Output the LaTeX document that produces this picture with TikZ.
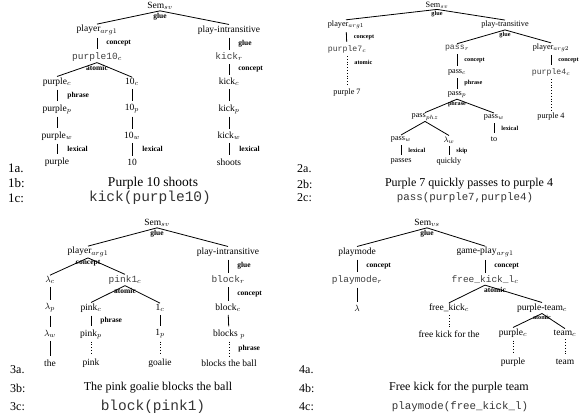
\documentclass[tikz,border=0pt]{standalone}
\usepackage{fontspec}
\setmainfont{Liberation Serif}
\setmonofont{Liberation Mono}
\usetikzlibrary{positioning}
\newcommand{\mono}[1]{{\color{black!75}\ttfamily #1}}
\tikzset{
  tn/.style={inner sep=1pt, font=\fontsize{9.5}{11}\selectfont},
  ts/.style={inner sep=1pt, font=\fontsize{8.2}{10}\selectfont},
  lbl/.style={inner sep=0pt, font=\fontsize{7.5}{8}\selectfont\bfseries},
  lbs/.style={inner sep=0pt, font=\fontsize{6.2}{7}\selectfont\bfseries},
  br/.style={line width=0.8pt},
  vl/.style={line width=0.8pt, shorten <=2pt, shorten >=2pt},
  dl/.style={vl, dotted},
  capt/.style={inner sep=0pt, font=\fontsize{12}{14}\selectfont},
  captt/.style={inner sep=0pt, text=black!80, font=\fontsize{10.8}{13}\selectfont\ttfamily},
}
\begin{document}
\begin{tikzpicture}[x=1pt,y=-1pt]
\useasboundingbox (0,0) rectangle (584,420);

% 1a
\begin{scope}[every node/.append style={tn}]
\node (s1) at (160,6) {Sem$_{sv}$};
\node (p1) at (97,30) {player$_{arg1}$};
\node (i1) at (229,30) {play-intransitive};
\node (c1) at (97,57) {\mono{purple10}$_c$};
\node (r1) at (229,57) {\mono{kick}$_r$};
\node (pc1) at (57,82) {purple$_c$};
\node (tc1) at (132,82) {10$_c$};
\node (kc1) at (229,82) {kick$_c$};
\node (pp1) at (57,109) {purple$_p$};
\node (tp1) at (132,109) {10$_p$};
\node (kp1) at (229,109) {kick$_p$};
\node (pw1) at (57,136) {purple$_w$};
\node (tw1) at (132,136) {10$_w$};
\node (kw1) at (229,136) {kick$_w$};
\node (pt1) at (57,162) {purple};
\node (tt1) at (132,162) {10};
\node (kt1) at (229,162) {shoots};

\draw[br] (s1.south) -- (p1.north);
\draw[br] (s1.south) -- (i1.north);
\node[lbl] (g1) at ([yshift=-6pt]s1.south) {glue};
\draw[vl] (p1) -- (c1) node[lbl,midway,right=9pt] (e1) {concept};
\draw[vl] (i1) -- (r1) node[lbl,midway,right=9pt] (e2) {glue};
\draw[br] (c1.south) -- (pc1.north);
\draw[br] (c1.south) -- (tc1.north);
\node[lbl] (a1) at ([yshift=-5pt]c1.south) {atomic};
\draw[vl] (r1) -- (kc1) node[lbl,midway,right=9pt] (e3) {concept};
\draw[vl] (pc1) -- (pp1) node[lbl,midway,right=10pt] (e4) {phrase};
\draw[vl] (tc1) -- (tp1);
\draw[vl] (kc1) -- (kp1);
\draw[vl] (pp1) -- (pw1);
\draw[vl] (tp1) -- (tw1);
\draw[vl] (kp1) -- (kw1);
\draw[vl] (pw1) -- (pt1) node[lbl,midway,right=10pt] (x1) {lexical};
\draw[vl] (tw1) -- (tt1) node[lbl,midway,right=10pt] (x2) {lexical};
\draw[vl] (kw1) -- (kt1) node[lbl,midway,right=10pt] (x3) {lexical};
\end{scope}
\node[capt,anchor=west,font=\fontsize{13}{15}\selectfont] (n1a) at (8,168) {1a.};
\node[capt,anchor=west,font=\fontsize{13}{15}\selectfont] (n1b) at (8,183) {1b:};
\node[capt,font=\fontsize{13.5}{15}\selectfont] (t1b) at (153,183) {Purple 10 shoots};
\node[capt,anchor=west,font=\fontsize{13}{15}\selectfont] (n1c) at (8,198) {1c:};
\node[captt,font=\fontsize{14.5}{17}\selectfont\ttfamily] (t1c) at (150,198) {kick(purple10)};

% 2a
\begin{scope}[every node/.append style={ts}]
\node (s2) at (437,5) {Sem$_{sv}$};
\node (p2) at (346,25) {player$_{arg1}$};
\node (t2) at (505,25) {play-transitive};
\node (c2) at (347,49) {\mono{purple7}$_c$};
\node (a2) at (347,93) {purple 7};
\node (pr2) at (457,48) {\mono{pass}$_r$};
\node (q2) at (551,48) {player$_{arg2}$};
\node (pc2) at (457,72) {pass$_c$};
\node (u2) at (551,72) {\mono{purple4}$_c$};
\node (pp2) at (457,95) {pass$_p$};
\node (b2) at (551,117) {purple 4};
\node (hz2) at (425,117) {pass$_{phz}$};
\node (ws2) at (494,117) {pass$_w$};
\node (pw2) at (401,139) {pass$_w$};
\node (lw2) at (449,140) {$\lambda_w$};
\node (to2) at (494,139) {to};
\node (ps2) at (401,161) {passes};
\node (qk2) at (449,162) {quickly};

\draw[br] (s2.south) -- (p2.north);
\draw[br] (s2.south) -- (t2.north);
\node[lbs] (g2) at ([yshift=-5pt]s2.south) {glue};
\draw[vl] (p2) -- (c2) node[lbs,midway,right=7pt] (e5) {concept};
\draw[dl] (c2) -- (a2) node[lbs,pos=0.25,right=7pt] (e6) {atomic};
\draw[br] (t2.south) -- (pr2.north);
\draw[br] (t2.south) -- (q2.north);
\node[lbs] (g3) at ([yshift=-5pt]t2.south) {glue};
\draw[vl] (pr2) -- (pc2) node[lbs,midway,right=7pt] (e7) {concept};
\draw[vl] (q2) -- (u2) node[lbs,midway,right=7pt] (e8) {concept};
\draw[vl] (pc2) -- (pp2) node[lbs,midway,right=7pt] (e9) {phrase};
\draw[dl] (u2) -- (b2);
\draw[br] (pp2.south) -- (hz2.north);
\draw[br] (pp2.south) -- (ws2.north);
\node[lbs] (h2) at ([yshift=-5pt]pp2.south) {phrase};
\draw[vl] (ws2) -- (to2) node[lbs,midway,right=7pt] (x4) {lexical};
\draw[br] (hz2.south) -- (pw2.north);
\draw[br] (hz2.south) -- (lw2.north);
\draw[vl] (pw2) -- (ps2) node[lbs,midway,right=7pt] (x5) {lexical};
\draw[vl] (lw2) -- (qk2) node[lbs,midway,right=7pt] (x6) {skip};
\end{scope}
\node[capt,anchor=west] (n2a) at (297,169) {2a.};
\node[capt,anchor=west] (n2b) at (297,184) {2b:};
\node[capt] (t2b) at (469,184) {Purple 7 quickly passes to purple 4};
\node[capt,anchor=west] (n2c) at (297,198) {2c:};
\node[captt] (t2c) at (465,198) {pass(purple7,purple4)};

% 3a
\begin{scope}[every node/.append style={tn}]
\node (s3) at (157,223) {Sem$_{sv}$};
\node (p3) at (88,252) {player$_{arg1}$};
\node (i3) at (228,252) {play-intransitive};
\node (lc3) at (50,280) {$\lambda_c$};
\node (k3) at (125,280) {\mono{pink1}$_c$};
\node (r3) at (228,280) {\mono{block}$_r$};
\node (lp3) at (50,308) {$\lambda_p$};
\node (pc3) at (91,308) {pink$_c$};
\node (oc3) at (160,308) {1$_c$};
\node (bc3) at (228,308) {block$_c$};
\node (lw3) at (50,334) {$\lambda_w$};
\node (pp3) at (91,334) {pink$_p$};
\node (op3) at (160,334) {1$_p$};
\node (bp3) at (229,334) {blocks $_p$};
\node (th3) at (50,363) {the};
\node (pk3) at (91,363) {pink};
\node (gl3) at (160,363) {goalie};
\node (bb3) at (229,363) {blocks the ball};

\draw[br] (s3.south) -- (p3.north);
\draw[br] (s3.south) -- (i3.north);
\node[lbl] (g4) at ([yshift=-6pt]s3.south) {glue};
\draw[br] (p3.south) -- (lc3.north);
\draw[br] (p3.south) -- (k3.north);
\node[lbl] (e10) at ([yshift=-5pt]p3.south) {concept};
\draw[vl] (i3) -- (r3) node[lbl,midway,right=9pt] (e11) {glue};
\draw[br] (k3.south) -- (pc3.north);
\draw[br] (k3.south) -- (oc3.north);
\node[lbl] (a3) at ([yshift=-5pt]k3.south) {atomic};
\draw[vl] (r3) -- (bc3) node[lbl,midway,right=9pt] (e12) {concept};
\draw[vl] (lc3) -- (lp3);
\draw[vl] (pc3) -- (pp3) node[lbl,midway,right=9pt] (e13) {phrase};
\draw[vl] (oc3) -- (op3);
\draw[vl] (bc3) -- (bp3);
\draw[vl] (lp3) -- (lw3);
\draw[vl] (lw3) -- (th3);
\draw[dl] (pp3) -- (pk3);
\draw[dl] (op3) -- (gl3);
\draw[dl] (bp3) -- (bb3) node[lbl,midway,right=9pt] (e14) {phrase};
\end{scope}
\node[capt,anchor=west] (n3a) at (10,370) {3a.};
\node[capt,anchor=west] (n3b) at (10,388) {3b:};
\node[capt] (t3b) at (158,388) {The pink goalie blocks the ball};
\node[capt,anchor=west] (n3c) at (10,407) {3c:};
\node[captt,font=\fontsize{14.5}{17}\selectfont\ttfamily] (t3c) at (153,407) {block(pink1)};

% 4a
\begin{scope}[every node/.append style={tn}]
\node (s4) at (427,223) {Sem$_{vs}$};
\node (pm4) at (357,252) {playmode};
\node (gp4) at (485,252) {game-play$_{arg1}$};
\node (pr4) at (357,280) {\mono{playmode}$_r$};
\node (fk4) at (485,280) {\mono{free\_kick\_l}$_c$};
\node (l4) at (357,308) {$\lambda$};
\node (fc4) at (449,308) {free\_kick$_c$};
\node (pt4) at (542,308) {purple-team$_c$};
\node (ft4) at (449,334) {free kick for the};
\node (pc4) at (513,333) {purple$_c$};
\node (tc4) at (565,333) {team$_c$};
\node (pu4) at (513,362) {purple};
\node (te4) at (565,362) {team};

\draw[br] (s4.south) -- (pm4.north);
\draw[br] (s4.south) -- (gp4.north);
\node[lbl] (g5) at ([yshift=-6pt]s4.south) {glue};
\draw[vl] (pm4) -- (pr4) node[lbl,midway,right=9pt] (e15) {concept};
\draw[vl] (gp4) -- (fk4) node[lbl,midway,right=9pt] (e16) {concept};
\draw[vl] (pr4) -- (l4);
\draw[br] (fk4.south) -- (fc4.north);
\draw[br] (fk4.south) -- (pt4.north);
\node[lbl] (a4) at ([xshift=10pt,yshift=-5pt]fk4.south) {atomic};
\draw[dl] (fc4) -- (ft4);
\draw[br] (pt4.south) -- (pc4.north);
\draw[br] (pt4.south) -- (tc4.north);
\node[lbs] (a5) at ([yshift=-4pt]pt4.south) {atomic};
\draw[dl] (pc4) -- (pu4);
\draw[dl] (tc4) -- (te4);
\end{scope}
\node[capt,anchor=west] (n4a) at (299,370) {4a.};
\node[capt,anchor=west] (n4b) at (299,388) {4b:};
\node[capt] (t4b) at (459,388) {Free kick for the purple team};
\node[capt,anchor=west] (n4c) at (299,407) {4c:};
\node[captt] (t4c) at (460,407) {playmode(free\_kick\_l)};
\end{tikzpicture}
\end{document}
